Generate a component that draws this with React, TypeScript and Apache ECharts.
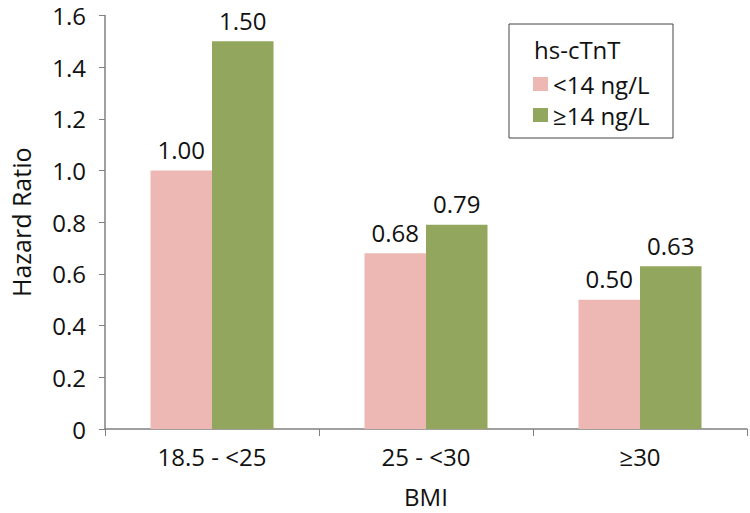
import React, { useEffect, useRef } from "react";
import * as echarts from "echarts";

const categories = ["18.5 - <25", "25 - <30", "≥30"];
const seriesNames = ["<14 ng/L", "≥14 ng/L"];
const lowValues = [1.0, 0.68, 0.5];
const highValues = [1.5, 0.79, 0.63];
const legendTitle = "hs-cTnT";
const xName = "BMI";
const yName = "Hazard Ratio";

const FONT = "Open Sans";
const FS = 24;

export default function App() {
  const ref = useRef<HTMLDivElement>(null);
  useEffect(() => {
    if (!ref.current) return;
    const chart = echarts.init(ref.current, undefined, { renderer: "svg" });
    const labelCfg = {
      show: true,
      position: "top" as const,
      distance: 9,
      fontSize: FS,
      fontFamily: FONT,
      color: "#111",
      formatter: (p: any) => Number(p.value).toFixed(2),
    };
    chart.setOption({
      animation: false,
      backgroundColor: "#fff",
      textStyle: { fontFamily: FONT },
      grid: { left: 99, right: 3, top: 15.5, bottom: 77.5, containLabel: false },
      legend: {
        data: seriesNames,
        orient: "vertical",
        left: 533,
        top: 72,
        padding: 0,
        itemWidth: 15,
        itemHeight: 14,
        itemGap: 7,
        icon: "rect",
        textStyle: { fontSize: FS, fontFamily: FONT, color: "#111" },
      },
      graphic: [
        {
          type: "rect",
          shape: { x: 509, y: 24, width: 164, height: 114 },
          style: { fill: "none", stroke: "#444", lineWidth: 1 },
        },
        {
          type: "text",
          x: 534,
          y: 49,
          style: {
            text: legendTitle,
            fontSize: FS,
            fontFamily: FONT,
            fill: "#111",
            verticalAlign: "middle",
          },
        },
      ],
      xAxis: {
        type: "category",
        data: categories,
        name: xName,
        nameLocation: "middle",
        nameGap: 55,
        nameTextStyle: { fontSize: FS, fontFamily: FONT, color: "#111" },
        axisLine: { lineStyle: { color: "#808080", width: 1.5 } },
        axisTick: { show: true, length: 7, alignWithLabel: false, lineStyle: { color: "#808080" } },
        axisLabel: { fontSize: FS, fontFamily: FONT, color: "#111", margin: 15 },
      },
      yAxis: {
        type: "value",
        min: 0,
        max: 1.6,
        interval: 0.2,
        name: yName,
        nameLocation: "middle",
        nameGap: 72,
        nameTextStyle: { fontSize: 25, fontFamily: FONT, color: "#111" },
        axisLine: { show: true, lineStyle: { color: "#808080", width: 1.5 } },
        axisTick: { show: true, length: 6, lineStyle: { color: "#808080" } },
        splitLine: { show: false },
        axisLabel: {
          fontSize: FS,
          fontFamily: FONT,
          color: "#111",
          margin: 19,
          formatter: (v: number) => (v === 0 ? "0" : v.toFixed(1)),
        },
      },
      series: [
        {
          name: seriesNames[0],
          type: "bar",
          data: lowValues,
          barWidth: 61.5,
          barGap: "0%",
          itemStyle: { color: "#EDB8B3" },
          label: labelCfg,
        },
        {
          name: seriesNames[1],
          type: "bar",
          data: highValues,
          barWidth: 61.5,
          barGap: "0%",
          itemStyle: { color: "#93A65D" },
          label: labelCfg,
        },
      ],
    });
    return () => chart.dispose();
  }, []);
  return <div ref={ref} style={{ width: 750, height: 513, position: "fixed", left: 0, top: 0 }} />;
}
